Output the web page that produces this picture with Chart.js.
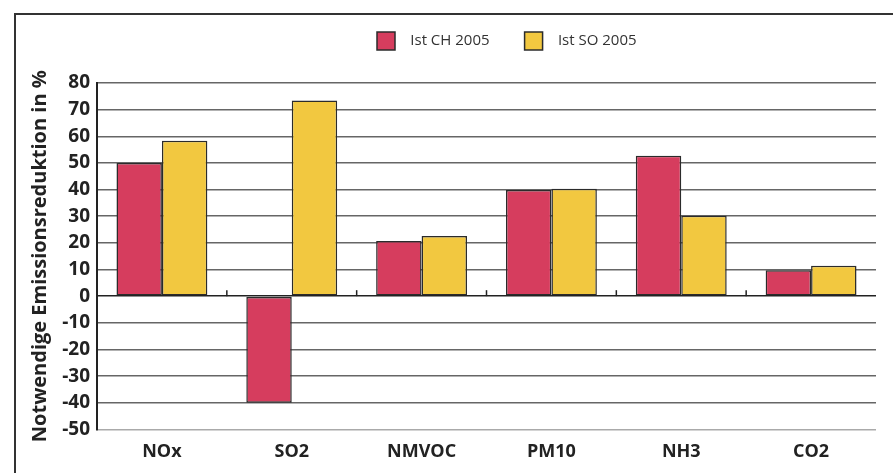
<!DOCTYPE html>
<html>
<head>
<meta charset="utf-8">
<script src="https://cdn.jsdelivr.net/npm/chart.js@4.4.1/dist/chart.umd.min.js"></script>
<style>
  html, body { margin: 0; padding: 0; background: #fff; }
  #wrap { position: relative; width: 893px; height: 473px; overflow: hidden; }
  #rahmen { position: absolute; left: 14px; top: 13px; right: -10px; bottom: -10px;
            border-left: 2px solid #333; border-top: 2px solid #333; }
  #grafik { position: absolute; left: 0; top: 0; }
</style>
</head>
<body>
<div id="wrap">
  <div id="rahmen"></div>
  <canvas id="grafik" width="893" height="473"></canvas>
</div>
<script>
// Daten aus der Grafik
const kategorien = ['NOx', 'SO2', 'NMVOC', 'PM10', 'NH3', 'CO2'];
const istCH = [50, -40, 20.7, 39.8, 52.7, 9.7];
const istSO = [58.3, 73.4, 22.6, 40.3, 30.2, 11.4];
const serienNamen = ['Ist CH 2005', 'Ist SO 2005'];
const yTicks = [80, 70, 60, 50, 40, 30, 20, 10, 0, -10, -20, -30, -40, -50];

const schrift = "'Open Sans', 'DejaVu Sans', sans-serif";

// kleine Striche auf der Nulllinie zwischen den Kategorien
const nullStriche = {
    id: 'nullStriche',
    afterDatasetsDraw(chart) {
        const x = chart.scales.x, y = chart.scales.y;
        const y0 = y.getPixelForValue(0);
        const ctx = chart.ctx;
        ctx.save();
        ctx.strokeStyle = '#222';
        ctx.lineWidth = 1.5;
        for (let i = 1; i < kategorien.length; i++) {
            const xp = (x.getPixelForValue(i - 1) + x.getPixelForValue(i)) / 2;
            ctx.beginPath();
            ctx.moveTo(xp, y0);
            ctx.lineTo(xp, y0 - 6);
            ctx.stroke();
        }
        ctx.restore();
    }
};

// Legende an die Stelle der Vorlage schieben
const legendeVerschieben = {
    id: 'legendeVerschieben',
    afterLayout(chart) {
        const lg = chart.legend;
        const w = lg.right - lg.left;
        lg.left = 377 - 35;
        lg.right = lg.left + w;
        lg.top -= 23;
        lg.bottom -= 23;
    }
};

const ctx = document.getElementById('grafik').getContext('2d');
const chart = new Chart(ctx, {
    type: 'bar',
    data: {
        labels: kategorien,
        datasets: [
            {
                label: serienNamen[0],
                data: istCH,
                backgroundColor: '#D63D5E',
                borderColor: '#2b2b2b',
                borderWidth: 1.5,
                borderSkipped: false
            },
            {
                label: serienNamen[1],
                data: istSO,
                backgroundColor: '#F2C840',
                borderColor: '#2b2b2b',
                borderWidth: 1.5,
                borderSkipped: false
            }
        ]
    },
    options: {
        responsive: false,
        animation: false,
        devicePixelRatio: 1,
        categoryPercentage: 0.7,
        barPercentage: 1.0,
        layout: { padding: { left: 16, right: 17, top: 20, bottom: -2 } },
        plugins: {
            legend: {
                position: 'top',
                align: 'start',
                labels: {
                    boxWidth: 18,
                    boxHeight: 18,
                    padding: 35,
                    color: '#333',
                    font: { family: schrift, size: 15 },
                    generateLabels: function(c) {
                        return Chart.defaults.plugins.legend.labels.generateLabels(c)
                            .map(l => Object.assign(l, { text: '  ' + l.text }));
                    }
                }
            },
            tooltip: { enabled: false }
        },
        scales: {
            x: {
                grid: { display: false, drawTicks: false },
                border: { display: false },
                ticks: {
                    color: '#222',
                    padding: 12,
                    font: { family: schrift, size: 18, weight: 'bold' }
                }
            },
            y: {
                min: -50,
                max: 80,
                afterBuildTicks: s => { s.ticks = yTicks.map(v => ({ value: v })); },
                afterFit: s => { s.width = 81; },
                border: { display: true, color: '#222', width: 2 },
                grid: {
                    drawTicks: false,
                    lineWidth: 1.5,
                    color: c => c.tick.value === 0 ? '#222' : (c.tick.value === -50 ? '#aaa' : '#666')
                },
                ticks: {
                    color: '#222',
                    padding: 7,
                    autoSkip: false,
                    font: { family: schrift, size: 19, weight: 'bold' }
                },
                title: {
                    display: true,
                    text: 'Notwendige Emissionsreduktion in %',
                    color: '#222',
                    padding: { top: 12, bottom: 0 },
                    font: { family: schrift, size: 20, weight: 'bold' }
                }
            }
        }
    },
    plugins: [nullStriche, legendeVerschieben]
});
</script>
</body>
</html>
